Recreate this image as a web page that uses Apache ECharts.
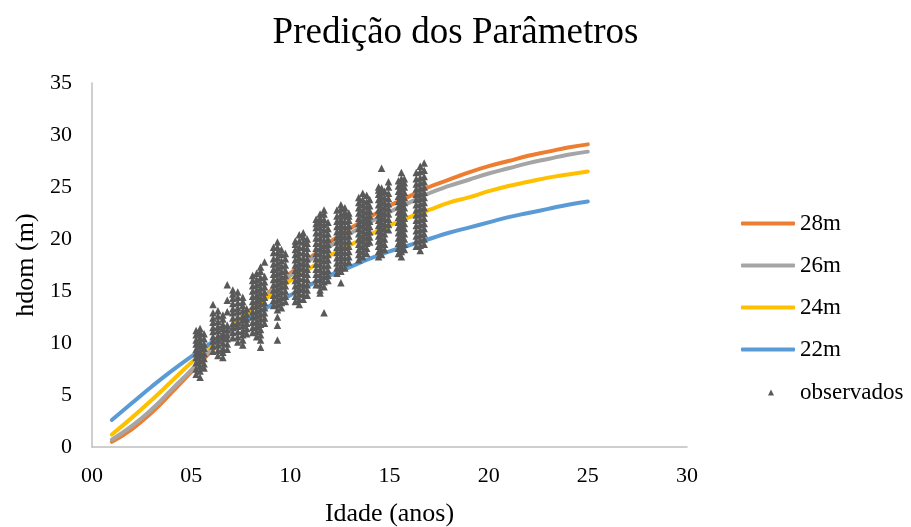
<!DOCTYPE html>
<html>
<head>
<meta charset="utf-8">
<script src="https://cdn.jsdelivr.net/npm/echarts@6/dist/echarts.min.js"></script>
<style>
  html, body { margin: 0; padding: 0; background: #fff; }
  #main { width: 911px; height: 527px; }
</style>
</head>
<body>
<div id="main"></div>
<script>
// idades das curvas (anos)
var ages = [1,2,3,4,5,6,7,8,9,10,11,12,13,14,15,16,17,18,19,20,21,22,23,24,25];
// curvas de sitio
var h28 = [0.5,1.7,3.3,5.2,7.2,9.2,11.2,13.2,15.0,16.7,18.2,19.7,21.0,22.1,23.2,24.1,25.0,25.7,26.4,27.0,27.5,28.0,28.4,28.8,29.1];
var h26 = [0.7,2.0,3.6,5.5,7.4,9.4,11.3,13.2,14.9,16.5,18.0,19.3,20.5,21.6,22.6,23.5,24.4,25.1,25.7,26.3,26.8,27.3,27.7,28.1,28.4];
var h24 = [1.2,2.8,4.5,6.3,8.1,9.8,11.5,13.1,14.6,16.0,17.2,18.4,19.4,20.4,21.3,22.1,22.8,23.5,24.0,24.6,25.1,25.5,25.9,26.2,26.5];
var h22 = [2.6,4.2,5.8,7.3,8.7,10.0,11.3,12.5,13.6,14.6,15.6,16.5,17.3,18.1,18.8,19.4,20.0,20.6,21.1,21.6,22.1,22.5,22.9,23.3,23.6];

// observados: idade de cada coluna e alturas lidas
var obsAge = [5.25,5.45,5.65,6.1,6.35,6.6,6.82,7.1,7.35,7.6,7.8,8.1,8.3,8.5,8.7,
  9.15,9.35,9.55,9.75,10.25,10.45,10.65,10.85,11.3,11.5,11.7,11.9,12.35,12.55,12.75,12.95,
  13.45,13.65,13.85,14.0,14.45,14.6,14.75,14.95,15.45,15.6,15.75,16.35,16.55,16.75];
var obsH = [
  [7.0,7.5,8.1,8.6,9.0,9.4,9.9,10.3,10.8,11.2],
  [6.7,7.3,7.8,8.3,8.8,9.2,9.7,10.1,10.5,11.0,11.4],
  [7.6,8.0,8.5,9.0,9.5,9.9,10.4,10.9],
  [9.2,9.7,10.2,10.6,11.1,11.5,12.0,12.4,12.9,13.7],
  [8.8,9.3,9.8,10.3,10.7,11.2,11.6,12.1,12.6,13.1],
  [8.6,9.1,9.5,10.0,10.5,10.9,11.4,11.8,12.3,12.7],
  [9.4,9.9,10.4,10.8,11.3,11.7,13.0,14.1,15.6],
  [10.5,11.0,11.5,11.9,12.4,12.9,13.3,13.8,14.3,14.7,15.1],
  [10.1,10.6,11.1,11.6,12.0,12.5,13.0,13.4,13.9,14.4,14.9],
  [9.8,10.3,10.8,11.2,11.7,12.2,12.6,13.1,13.6,14.0,14.4],
  [10.9,11.4,11.9,12.3,12.8,13.3],
  [11.0,11.5,12.0,12.5,13.0,13.5,14.0,14.5,15.0,15.5,16.0,16.5],
  [10.6,11.1,11.6,12.1,12.6,13.1,13.6,14.1,14.6,15.1,15.6,16.1,16.7],
  [9.6,10.3,10.8,11.3,11.8,12.3,12.8,13.3,13.8,14.3,14.8,15.3,15.8,16.3,16.9,17.3],
  [11.9,12.4,12.9,13.4,13.9,14.4,14.9,15.4,15.9,16.4,17.8],
  [13.6,14.1,14.6,15.1,15.6,16.1,16.6,17.1,17.6,18.1,18.7,19.2],
  [10.3,11.7,12.5,13.2,13.7,14.2,14.7,15.2,15.7,16.2,16.7,17.2,17.7,18.2,18.7,19.2,19.7],
  [13.4,13.9,14.4,14.9,15.4,15.9,16.4,16.9,17.4,17.9,18.5,19.0],
  [14.0,14.5,15.0,15.5,16.0,16.5,17.0,17.5,18.1,18.6],
  [14.0,14.5,15.0,15.5,16.0,16.5,17.0,17.5,18.0,18.5,19.0,19.5,19.8],
  [13.7,14.2,14.7,15.2,15.7,16.2,16.7,17.2,17.7,18.2,18.7,19.2,19.8,20.4],
  [14.2,14.7,15.2,15.7,16.2,16.7,17.2,17.7,18.2,18.7,19.2,19.7,20.2,20.6],
  [14.6,15.1,15.6,16.1,16.6,17.1,17.6,18.1,18.6,19.1,19.6,20.0],
  [15.6,16.1,16.6,17.1,17.6,18.1,18.6,19.1,19.6,20.1,20.6,21.1,21.5,21.9],
  [14.8,15.1,15.6,16.1,16.6,17.1,17.6,18.1,18.6,19.1,19.6,20.1,20.6,21.1,21.6,22.0,22.4],
  [12.9,15.4,15.9,16.4,16.9,17.4,17.9,18.4,18.9,19.4,19.9,20.4,20.9,21.4,21.9,22.4,22.8],
  [16.0,16.5,17.0,17.5,18.0,18.5,19.0,19.5,20.0,20.5,21.0,21.6],
  [16.7,17.2,17.7,18.2,18.7,19.2,19.7,20.2,20.7,21.2,21.7,22.2,22.8],
  [15.8,16.9,17.4,17.9,18.4,18.9,19.4,19.9,20.4,20.9,21.4,21.9,22.4,22.9,23.3],
  [17.2,17.7,18.2,18.7,19.2,19.7,20.2,20.7,21.2,21.7,22.2,22.6,23.0],
  [17.8,18.3,18.8,19.3,19.8,20.3,20.8,21.3,21.8,22.2,22.5],
  [18.0,18.5,19.0,19.5,20.0,20.5,21.0,21.5,22.0,22.5,23.0,23.5,24.0],
  [18.3,18.8,19.3,19.8,20.3,20.8,21.3,21.8,22.3,22.8,23.3,23.8,24.4],
  [18.6,19.1,19.6,20.1,20.6,21.1,21.6,22.1,22.6,23.1,23.6,24.2],
  [19.7,20.2,20.7,21.2,21.7,22.2,22.7,23.2,23.8],
  [18.3,18.8,19.3,19.8,20.3,20.8,21.3,21.8,22.3,22.8,23.3,23.8,24.3,24.7,25.0],
  [18.5,19.0,19.5,20.0,20.5,21.0,21.5,22.0,22.5,23.0,23.5,24.0,24.5,24.9,26.8],
  [19.0,19.5,20.0,20.5,21.0,21.5,22.0,22.5,23.0,23.5,24.0,24.6],
  [20.9,21.4,21.9,22.4,22.9,23.4,23.9,24.4,25.0,25.5],
  [18.6,19.1,19.6,20.1,20.6,21.1,21.6,22.1,22.6,23.1,23.6,24.1,24.6,25.1,25.6],
  [18.3,18.8,19.3,19.8,20.3,20.8,21.3,21.8,22.3,22.8,23.3,23.8,24.3,24.8,25.3,25.8,26.4],
  [19.0,19.5,20.0,20.5,21.0,21.5,22.0,22.5,23.0,23.5,24.0,24.5,25.0,25.4,25.8],
  [19.3,19.8,20.3,20.8,21.3,21.8,22.3,22.8,23.3,23.8,24.3,24.8,25.3,25.8,26.4],
  [18.9,19.4,19.9,20.4,20.9,21.4,21.9,22.4,22.9,23.4,23.9,24.4,24.9,25.4,25.9,26.5,27.0],
  [19.5,20.0,20.5,21.0,21.5,22.0,22.5,23.0,23.5,24.0,24.5,25.0,25.5,26.0,26.6,27.3]
];

var lineNames = ['28m','26m','24m','22m'];
var lineColors = ['#ED7D31','#A5A5A5','#FFC000','#5B9BD5'];
var lineValues = [h28, h26, h24, h22];

var fonte = '"Liberation Serif", "Times New Roman", serif';

var pares = function(xs, ys) {
    var out = [];
    for (var i = 0; i < xs.length; i++) out.push([xs[i], ys[i]]);
    return out;
};

var obsData = [];
for (var i = 0; i < obsAge.length; i++) {
    for (var j = 0; j < obsH[i].length; j++) obsData.push([obsAge[i], obsH[i][j]]);
}

var series = [];
for (var k = 0; k < lineNames.length; k++) {
    series.push({
        name: lineNames[k],
        type: 'line',
        data: pares(ages, lineValues[k]),
        symbol: 'none',
        smooth: true,
        lineStyle: { color: lineColors[k], width: 4, cap: 'round' },
        itemStyle: { color: lineColors[k] },
        z: 2
    });
}
series.push({
    name: 'observados',
    type: 'scatter',
    data: obsData,
    symbol: 'triangle',
    symbolSize: 7.5,
    itemStyle: { color: '#595959', opacity: 1 },
    z: 3
});

var legendLinhas = [];
for (var m = 0; m < lineNames.length; m++) {
    legendLinhas.push({ name: lineNames[m], icon: 'roundRect', itemStyle: { color: lineColors[m] } });
}

var myChart = echarts.init(document.getElementById('main'));
var option = {
    backgroundColor: '#fff',
    animation: false,
    textStyle: { fontFamily: fonte },
    title: {
        text: 'Predição dos Parâmetros',
        left: 'center',
        top: 10,
        textStyle: { fontFamily: fonte, fontSize: 37, fontWeight: 'normal', color: '#000' }
    },
    legend: [{
        data: legendLinhas,
        orient: 'vertical',
        left: 736,
        top: 207,
        itemWidth: 54,
        itemHeight: 4,
        itemGap: 19,
        textStyle: { fontFamily: fonte, fontSize: 23, color: '#000', lineHeight: 23 }
    }, {
        data: [{ name: 'observados', icon: 'triangle', itemStyle: { color: '#595959' } }],
        orient: 'vertical',
        left: 763,
        top: 376,
        itemWidth: 6,
        itemHeight: 6,
        textStyle: { fontFamily: fonte, fontSize: 23, color: '#000', lineHeight: 23, padding: [0, 0, 0, 21] }
    }],
    grid: { left: 92, right: 224, top: 83, bottom: 80, outerBoundsMode: 'none' },
    xAxis: {
        type: 'value',
        min: 0,
        max: 30,
        interval: 5,
        name: 'Idade (anos)',
        nameLocation: 'middle',
        nameGap: 54,
        nameTextStyle: { fontFamily: fonte, fontSize: 26, color: '#000' },
        axisLine: { lineStyle: { color: '#BFBFBF', width: 1.5 } },
        axisTick: { show: false },
        splitLine: { show: false },
        axisLabel: {
            fontFamily: fonte, fontSize: 22, color: '#000', margin: 18,
            formatter: function(v) { return (v < 10 ? '0' : '') + v; }
        }
    },
    yAxis: {
        type: 'value',
        min: 0,
        max: 35,
        interval: 5,
        name: 'hdom (m)',
        nameLocation: 'middle',
        nameGap: 46,
        nameTextStyle: { fontFamily: fonte, fontSize: 26, color: '#000' },
        axisLine: { show: true, lineStyle: { color: '#BFBFBF', width: 1.5 } },
        axisTick: { show: false },
        splitLine: { show: false },
        axisLabel: { fontFamily: fonte, fontSize: 22, color: '#000', margin: 20 }
    },
    series: series
};
myChart.setOption(option);
</script>
</body>
</html>
